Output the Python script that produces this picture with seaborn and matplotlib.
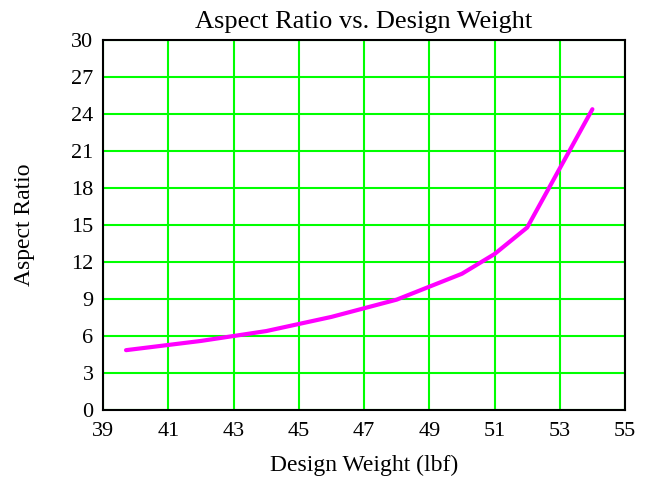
import pandas as pd
import seaborn as sns
import matplotlib.pyplot as plt

sns.set_theme(style="white")
plt.rcParams['font.family'] = ['Liberation Serif', 'DejaVu Serif']
plt.rcParams['text.color'] = "black"

# valores
design_weight = [39.7, 42, 44, 46, 48, 50, 51, 52, 54]
aspect_ratio = [4.85, 5.6, 6.4, 7.55, 8.95, 11.05, 12.65, 14.8, 24.4]
x_ticks = list(range(39, 56, 2))
y_ticks = list(range(0, 31, 3))

df = pd.DataFrame({"peso": design_weight, "ar": aspect_ratio})

fig = plt.figure(figsize=(6.45, 4.84), dpi=100)
ax = fig.add_axes([0.16, 0.153, 0.809, 0.764])

sns.lineplot(x="peso", y="ar", data=df, color="#ff00ff", linewidth=3, ax=ax, zorder=3)

ax.set_xlim(39, 55)
ax.set_ylim(0, 30)
ax.set_xticks(x_ticks)
ax.set_yticks(y_ticks)
ax.grid(True, color="#00ff00", linewidth=1.5)
ax.set_axisbelow(True)
for s in ax.spines.values():
    s.set_color("black")
    s.set_linewidth(1.5)
ax.tick_params(length=0, labelsize=16, colors="black")
ax.tick_params(axis="x", pad=9)
ax.tick_params(axis="y", pad=7)

ax.set_title("Aspect Ratio vs. Design Weight", fontsize=19, pad=9, color="black")
ax.set_xlabel("Design Weight (lbf)", fontsize=17, color="black", va="center")
ax.set_ylabel("Aspect Ratio", fontsize=17, color="black", va="center")
ax.xaxis.set_label_coords(0.5, -0.149)
ax.yaxis.set_label_coords(-0.151, 0.5)

plt.savefig("out.png", dpi=100)
plt.close()
